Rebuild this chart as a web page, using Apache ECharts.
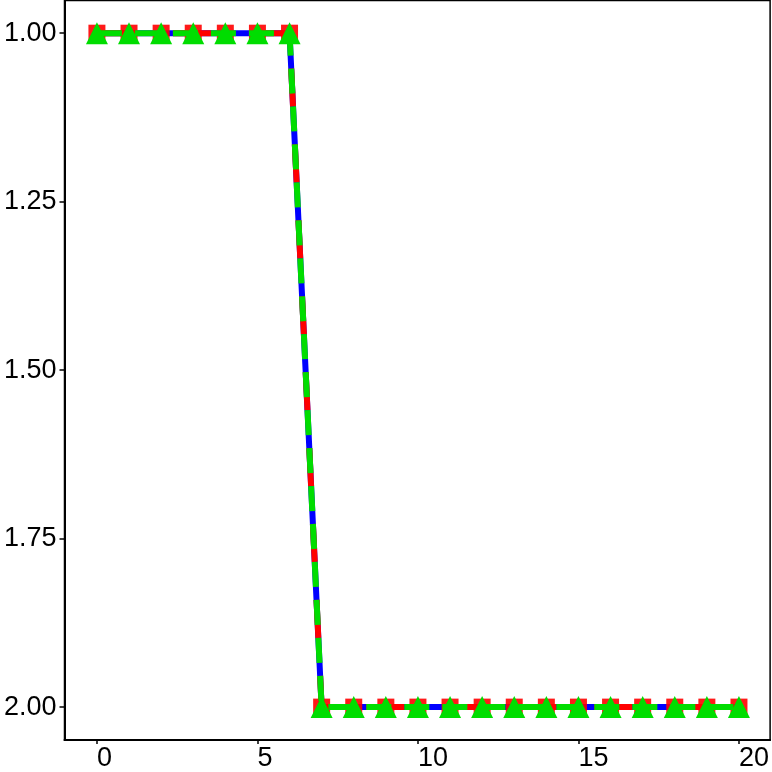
<!DOCTYPE html>
<html>
<head>
<meta charset="utf-8">
<script src="https://cdn.jsdelivr.net/npm/echarts@6/dist/echarts.min.js"></script>
<style>html,body{margin:0;padding:0;background:#fff}#c{width:772px;height:772px}</style>
</head>
<body>
<div id="c"></div>
<script>
const xValues = [0,1,2,3,4,5,6,7,8,9,10,11,12,13,14,15,16,17,18,19,20];
const blueValues  = [1,1,1,1,1,1,1,2,2,2,2,2,2,2,2,2,2,2,2,2,2];
const redValues   = [1,1,1,1,1,1,1,2,2,2,2,2,2,2,2,2,2,2,2,2,2];
const greenValues = [1,1,1,1,1,1,1,2,2,2,2,2,2,2,2,2,2,2,2,2,2];
const xTicks = [0,5,10,15,20];
const yTicks = [1.00,1.25,1.50,1.75,2.00];

const pair = v => xValues.map((x,i)=>[x, v[i]]);
const font = 'Liberation Sans, Arial, sans-serif';
const chart = echarts.init(document.getElementById('c'));
chart.setOption({
  animation:false,
  grid:{left:64.5,right:1.5,top:0.5,bottom:29,show:true,borderColor:'#000',borderWidth:1.5,backgroundColor:'#fff'},
  xAxis:{type:'value',min:-1.01,max:20.97,
    axisLine:{show:true,onZero:false,lineStyle:{color:'#000',width:2}},
    axisTick:{show:true,length:4,lineStyle:{color:'#000',width:1.5},customValues:xTicks},
    axisLabel:{color:'#000',fontSize:27,fontFamily:font,margin:5,align:'left',customValues:xTicks},
    splitLine:{show:false}},
  yAxis:{type:'value',inverse:true,min:0.9515,max:2.0488,
    axisLine:{show:true,onZero:false,lineStyle:{color:'#000',width:2}},
    axisTick:{show:true,length:5,lineStyle:{color:'#000',width:1.5},customValues:yTicks},
    axisLabel:{color:'#000',fontSize:27,fontFamily:font,margin:8,customValues:yTicks,formatter:v=>v.toFixed(2)},
    splitLine:{show:false}},
  series:[
    {type:'line',data:pair(blueValues),showSymbol:false,symbol:'none',lineStyle:{color:'#0000ff',width:6},z:2},
    {type:'line',data:pair(redValues),symbol:'rect',symbolSize:17,itemStyle:{color:'#ff0000',opacity:0.9},
      lineStyle:{color:'#ff0000',width:6,type:[38,38]},z:3},
    {type:'line',data:pair(greenValues),symbol:'triangle',symbolSize:22,itemStyle:{color:'#00dd00'},
      lineStyle:{color:'#00dd00',width:6,type:[25,13]},z:4}
  ]
});
</script>
</body>
</html>
